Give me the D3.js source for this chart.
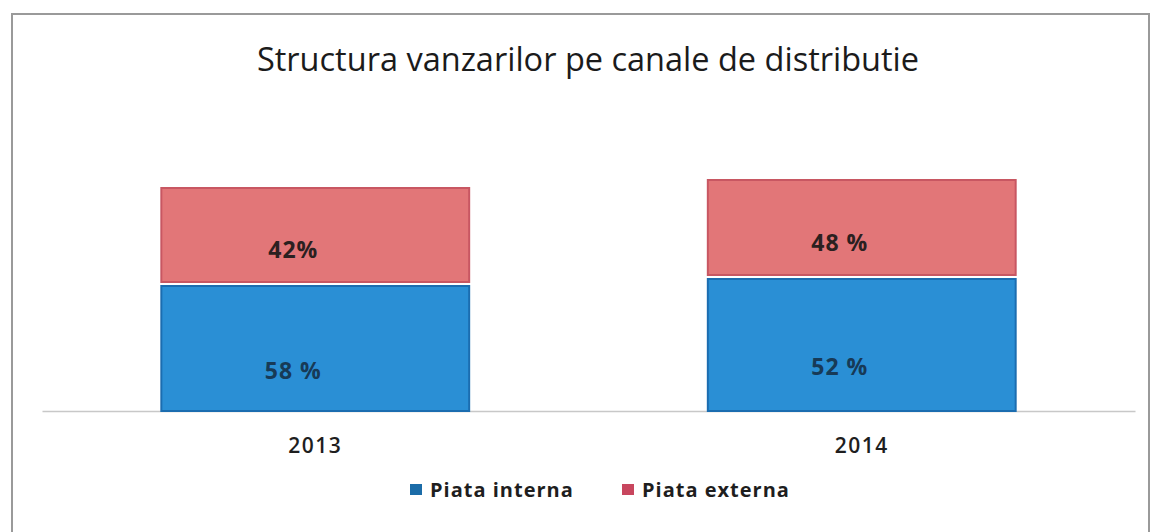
<!DOCTYPE html>
<head>
    <meta charset="utf-8">
    <title>Structura vanzarilor</title>
</head>
<script src="https://d3js.org/d3.v7.min.js"></script>

<div id="graph"></div>

<script>
    // data (bar heights in chart units, labels as printed)
    var years = ["2013", "2014"];
    var series = ["Piata interna", "Piata externa"];
    var interna = [127, 134];
    var externa = [96, 97];
    var internaLabels = ["58 %", "52 %"];
    var externaLabels = ["42%", "48 %"];

    var width = 1152, height = 532;
    var baseY = 411;

    var svg = d3.select("#graph")
        .append("svg")
            .attr("width", width)
            .attr("height", height);

    //frame round the chart
    svg.append("rect")
        .attr("x", 12).attr("y", 14)
        .attr("width", 1137).attr("height", 540)
        .attr("fill", "white")
        .attr("stroke", "#9a9a9a")
        .attr("stroke-width", 2);

    svg.append("text")
        .attr("x", 588).attr("y", 71)
        .attr("text-anchor", "middle")
        .attr("class", "title")
        .text("Structura vanzarilor pe canale de distributie");

    var x = d3.scaleBand()
        .domain(years)
        .range([42, 1135])
        .paddingInner(0.433)
        .paddingOuter(0.2165);

    var y = d3.scaleLinear()
        .domain([0, 240])
        .range([baseY, baseY - 240]);

    var rows = years.map(function(yr, i) {
        return {year: yr, interna: interna[i], externa: externa[i],
                li: internaLabels[i], le: externaLabels[i]};
    });

    var stack = d3.stack().keys(["interna", "externa"])(rows);
    var color = d3.scaleOrdinal()
        .domain(["interna", "externa"])
        .range(["#2a8fd5", "#e27678"]);
    var edge = d3.scaleOrdinal()
        .domain(["interna", "externa"])
        .range(["#1b6db0", "#c85762"]);

    //axis line
    var xAxis = d3.axisBottom(x).tickSize(0).tickPadding(27);
    var xGroup = svg.append("g")
        .attr("transform", "translate(0," + baseY + ")")
        .call(xAxis);
    xGroup.select(".domain").attr("stroke", "#c8c8c8").attr("stroke-width", 1.5);
    xGroup.selectAll("text").attr("class", "cat").attr("fill", "#1e1e1e");

    svg.append("g").selectAll("g")
        .data(stack)
        .enter().append("g")
        .each(function(layer) {
            var top = layer.key == "externa";
            d3.select(this).selectAll("rect")
                .data(layer)
                .enter().append("rect")
                .attr("x", function(d) { return x(d.data.year) + 1; })
                .attr("y", function(d) { return y(d[1]) + (top ? 0 : 2); })
                .attr("width", x.bandwidth() - 2)
                .attr("height", function(d) { return y(d[0]) - y(d[1]) - 2; })
                .attr("fill", color(layer.key))
                .attr("stroke", edge(layer.key))
                .attr("stroke-width", 2);

            d3.select(this).selectAll("text")
                .data(layer)
                .enter().append("text")
                .attr("class", "val")
                .attr("x", function(d) { return x(d.data.year) + x.bandwidth() / 2 - 22; })
                .attr("y", function(d) { return (y(d[0]) + y(d[1])) / 2 + (top ? 13 : 22); })
                .attr("dominant-baseline", "central")
                .attr("text-anchor", "middle")
                .attr("fill", top ? "#2b2020" : "#173a57")
                .text(function(d) { return top ? d.data.le : d.data.li; });
        });

    //legend
    var legendX = [410, 622];
    var legend = svg.append("g").selectAll("g")
        .data(series)
        .enter().append("g")
        .attr("transform", function(d, i) { return "translate(" + legendX[i] + ",497)"; });
    legend.append("rect")
        .attr("x", 0).attr("y", -13)
        .attr("width", 12).attr("height", 11)
        .attr("fill", function(d, i) { return i == 0 ? "#1b6ca8" : "#c8465e"; });
    legend.append("text")
        .attr("x", 20).attr("y", 0)
        .attr("class", "leg")
        .text(function(d) { return d; });
</script>

<style>
    html, body {
        margin: 0;
        padding: 0;
        background: white;
        overflow: hidden;
    }
    text {
        font-family: "Open Sans", sans-serif;
    }
    .title {
        font-size: 32.5px;
        fill: #1b1b1b;
    }
    .tick text.cat {
        font-family: "Open Sans", sans-serif;
        font-size: 21px;
        font-weight: 600;
        letter-spacing: 1.5px;
    }
    .val {
        font-size: 23px;
        font-weight: 700;
        letter-spacing: 1px;
    }
    .leg {
        font-size: 20px;
        font-weight: 700;
        letter-spacing: 1px;
        fill: #1e1e1e;
    }
</style>
